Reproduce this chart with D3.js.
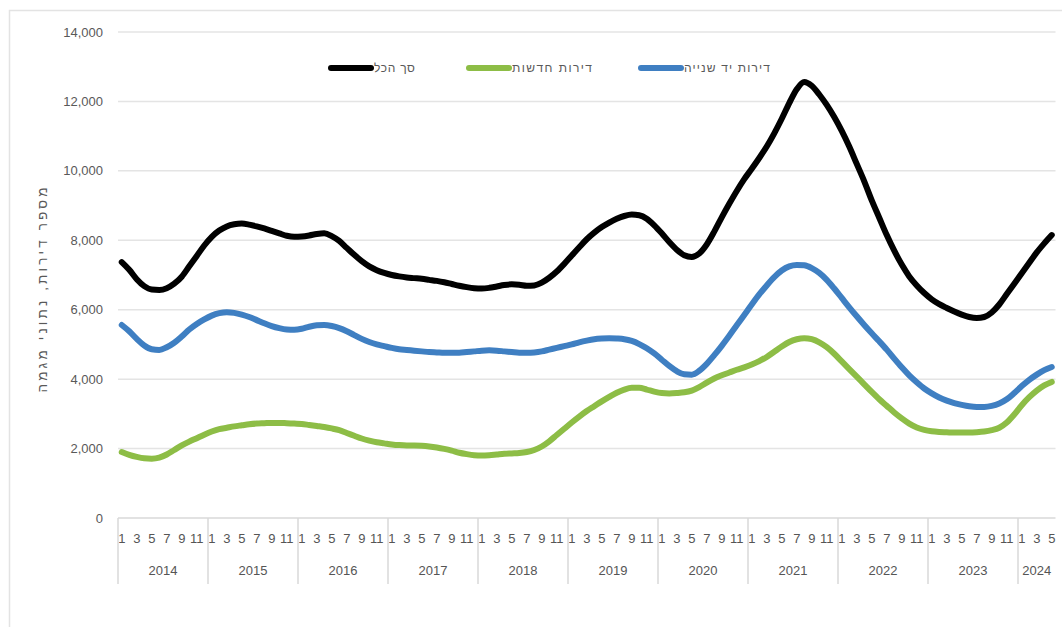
<!DOCTYPE html>
<html>
<head>
<meta charset="utf-8">
<script src="https://cdn.jsdelivr.net/npm/d3@7"></script>
<style>
  body { margin: 0; background: #fff; }
  svg { display: block; font-family: "Liberation Sans", "DejaVu Sans", sans-serif; }
</style>
</head>
<body>
<div id="chart"></div>
<script>
// categories: monthly, Jan 2014 .. May 2024
const years = [2014, 2015, 2016, 2017, 2018, 2019, 2020, 2021, 2022, 2023, 2024];
const monthsInYear = [12, 12, 12, 12, 12, 12, 12, 12, 12, 12, 5];

const yTicks = [0, 2000, 4000, 6000, 8000, 10000, 12000, 14000];

// total (black)
const totalValues = [
    7370, 7150, 6880, 6680, 6580, 6570, 6620, 6750, 6950, 7250, 7550, 7850,
    8100, 8280, 8400, 8460, 8480, 8450, 8400, 8340, 8270, 8200, 8130, 8100,
    8110, 8140, 8180, 8200, 8120, 7980, 7780, 7580, 7400, 7250, 7140, 7060,
    7000, 6960, 6930, 6910, 6890, 6860, 6830, 6790, 6740, 6690, 6650, 6620,
    6610, 6630, 6670, 6710, 6730, 6720, 6690, 6700, 6780, 6920, 7100, 7320,
    7560, 7800, 8030, 8220, 8380, 8510, 8620, 8700, 8740, 8720, 8620, 8430,
    8200, 7950, 7730, 7570, 7520, 7620, 7880, 8250, 8660, 9050, 9420, 9760,
    10060, 10370, 10700, 11080, 11500, 11950, 12350, 12560, 12450, 12200, 11900, 11550,
    11150, 10700, 10200, 9700, 9150, 8650, 8150, 7700, 7300, 6960, 6700, 6480,
    6300, 6160, 6050, 5950, 5860, 5790, 5760, 5790, 5920, 6150, 6450, 6750,
    7050, 7350, 7650, 7910, 8150
];

// new apartments (green)
const newValues = [
    1900, 1820, 1760, 1720, 1710, 1740, 1830, 1960, 2090, 2200, 2300, 2400,
    2490, 2560, 2600, 2640, 2670, 2700, 2720, 2730, 2740, 2740, 2730, 2720,
    2710, 2680, 2650, 2620, 2580, 2530, 2450, 2370, 2290, 2230, 2180, 2150,
    2120, 2100, 2090, 2090, 2080, 2060, 2030, 1990, 1940, 1880, 1840, 1810,
    1800, 1810, 1830, 1850, 1860, 1870, 1900, 1960, 2060, 2210, 2390, 2570,
    2750, 2920, 3080, 3220, 3360, 3490, 3610, 3700, 3750, 3750, 3700, 3640,
    3600, 3590, 3600, 3620, 3670, 3770, 3900, 4020, 4110, 4190, 4270, 4340,
    4420, 4520, 4640, 4790, 4940, 5070, 5150, 5180, 5150, 5060, 4920, 4730,
    4510, 4290, 4070, 3850, 3630, 3420, 3230, 3040, 2870, 2720, 2610, 2540,
    2500, 2480, 2470, 2460, 2460, 2460, 2470, 2490, 2530, 2600, 2750, 2980,
    3250, 3480, 3670, 3820, 3920
];

// second-hand apartments (blue)
const secondHandValues = [
    5560, 5380, 5160, 4970, 4860, 4840, 4920, 5050, 5230, 5430, 5590, 5720,
    5830, 5900, 5930, 5910, 5860, 5790, 5700, 5610, 5530, 5470, 5430, 5420,
    5450, 5510, 5550, 5560, 5530, 5470, 5380, 5270, 5160, 5070, 5000, 4950,
    4900, 4860, 4840, 4820, 4800, 4780, 4770, 4760, 4760, 4760, 4780, 4800,
    4820, 4830, 4820, 4800, 4780, 4760, 4760, 4770, 4800, 4850, 4900, 4950,
    5000, 5060, 5110, 5150, 5170, 5180, 5170, 5150, 5100, 5010, 4890, 4740,
    4560, 4380, 4230, 4140, 4130, 4240, 4440, 4690, 4960, 5250, 5550, 5850,
    6150, 6440, 6700, 6940, 7130, 7250, 7290, 7280, 7200, 7060, 6860, 6610,
    6340, 6070, 5810, 5560, 5320, 5090, 4850, 4590, 4340, 4110, 3910, 3730,
    3590, 3470, 3380, 3310, 3260, 3220, 3200, 3200, 3230, 3300, 3420, 3600,
    3800, 3980, 4130, 4260, 4350
];

const seriesNames = ["סך הכל", "דירות חדשות", "דירות יד שנייה"];
const seriesColors = ["#000000", "#8dbd46", "#3f7fc2"];
const yTitle = "מספר דירות, נתוני מגמה";

function drawChart() {
    const width = 1062;
    const height = 627;

    const svg = d3.select("#chart")
        .append("svg")
        .attr("width", width)
        .attr("height", height);

    // outer frame (cropped chart box)
    svg.append("rect")
        .attr("x", 9.5).attr("y", 10.5)
        .attr("width", 1080).attr("height", 640)
        .attr("fill", "none")
        .attr("stroke", "#e3e3e3")
        .attr("stroke-width", 1.5);

    // build month categories
    const categories = [];
    years.forEach((yr, k) => {
        for (let m = 1; m <= monthsInYear[k]; m++) categories.push({ year: yr, month: m, key: yr + "-" + m });
    });

    const x = d3.scaleBand()
        .domain(categories.map(d => d.key))
        .range([118, 118 + 7.5 * categories.length])
        .padding(0);

    const y = d3.scaleLinear()
        .domain([0, 14000])
        .range([518, 32]);

    const plotLeft = x.range()[0];
    const plotRight = x.range()[1];

    // gridlines
    svg.append("g")
        .selectAll("line")
        .data(yTicks.filter(d => d > 0))
        .enter().append("line")
        .attr("x1", plotLeft).attr("x2", plotRight)
        .attr("y1", d => y(d)).attr("y2", d => y(d))
        .attr("stroke", "#e4e4e4")
        .attr("stroke-width", 1.5);

    // y labels
    svg.append("g")
        .selectAll("text")
        .data(yTicks)
        .enter().append("text")
        .attr("x", 103)
        .attr("y", d => y(d))
        .attr("dy", "0.35em")
        .attr("text-anchor", "end")
        .attr("font-size", 13)
        .attr("fill", "#595959")
        .text(d => d3.format(",")(d));

    // y title
    svg.append("text")
        .attr("transform", "translate(47,290) rotate(-90)")
        .attr("text-anchor", "middle")
        .attr("font-size", 13.5)
        .attr("fill", "#595959")
        .attr("textLength", 205)
        .attr("lengthAdjust", "spacing")
        .text(yTitle);

    // x axis line
    svg.append("line")
        .attr("x1", plotLeft).attr("x2", plotRight)
        .attr("y1", 518).attr("y2", 518)
        .attr("stroke", "#d9d9d9")
        .attr("stroke-width", 1.5);

    // month labels (odd months)
    svg.append("g")
        .selectAll("text")
        .data(categories.filter(d => d.month % 2 === 1))
        .enter().append("text")
        .attr("x", d => x(d.key) + x.bandwidth() / 2)
        .attr("y", 538)
        .attr("dy", "0.35em")
        .attr("text-anchor", "middle")
        .attr("font-size", 13)
        .attr("fill", "#555555")
        .text(d => d.month);

    // year groups
    const yearGroups = years.map((yr, k) => {
        const first = categories.find(d => d.year === yr);
        return { year: yr, x0: x(first.key), x1: x(first.key) + x.bandwidth() * monthsInYear[k] };
    });

    svg.append("g")
        .selectAll("line")
        .data(yearGroups)
        .enter().append("line")
        .attr("x1", d => d.x0).attr("x2", d => d.x0)
        .attr("y1", 518).attr("y2", 584)
        .attr("stroke", "#d9d9d9")
        .attr("stroke-width", 1.5);

    svg.append("g")
        .selectAll("text")
        .data(yearGroups)
        .enter().append("text")
        .attr("x", d => (d.x0 + d.x1) / 2)
        .attr("y", 570)
        .attr("dy", "0.35em")
        .attr("text-anchor", "middle")
        .attr("font-size", 13)
        .attr("fill", "#555555")
        .text(d => d.year);

    // series lines
    const series = [totalValues, newValues, secondHandValues];
    const line = d3.line()
        .x((d, i) => x(categories[i].key) + x.bandwidth() / 2)
        .y(d => y(d))
        .curve(d3.curveMonotoneX);

    // draw blue, green, then black on top
    [2, 1, 0].forEach(s => {
        svg.append("path")
            .datum(series[s])
            .attr("fill", "none")
            .attr("stroke", seriesColors[s])
            .attr("stroke-width", 6)
            .attr("stroke-linecap", "round")
            .attr("stroke-linejoin", "round")
            .attr("d", line);
    });

    // legend
    const legendX = [331, 469, 641];
    const legendTextLen = [41, 80, 86];
    const legend = svg.append("g")
        .selectAll("g")
        .data(seriesNames)
        .enter().append("g")
        .attr("transform", (d, i) => `translate(${legendX[i]},68)`);

    legend.append("line")
        .attr("x1", 0).attr("x2", 40)
        .attr("y1", 0).attr("y2", 0)
        .attr("stroke", (d, i) => seriesColors[i])
        .attr("stroke-width", 6)
        .attr("stroke-linecap", "round");

    legend.append("text")
        .attr("x", 43)
        .attr("dy", "0.35em")
        .attr("font-size", 12)
        .attr("fill", "#595959")
        .attr("textLength", (d, i) => legendTextLen[i])
        .attr("lengthAdjust", "spacing")
        .text(d => d);
}

drawChart();
</script>
</body>
</html>
